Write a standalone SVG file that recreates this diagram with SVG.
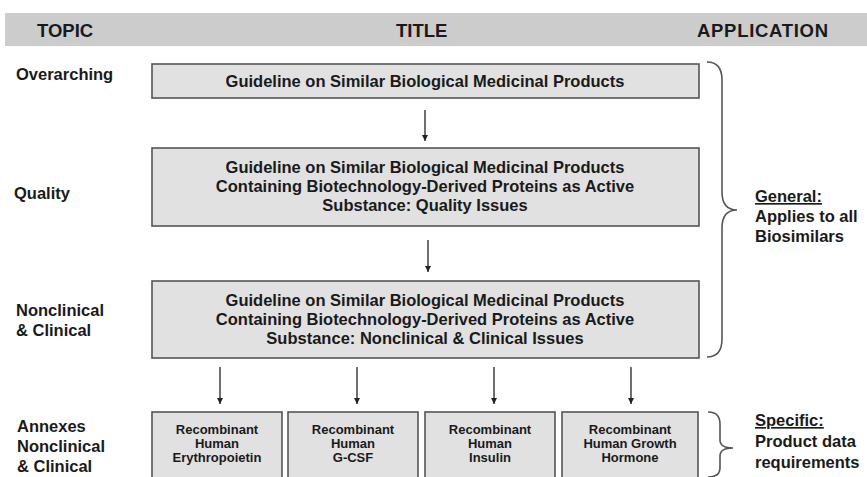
<svg xmlns="http://www.w3.org/2000/svg" width="867" height="477" viewBox="0 0 867 477">
  <style>
    text { font-family: "Liberation Sans", Arial, sans-serif; font-weight: bold; fill: #1a1a1a; }
    .hdr { font-size: 18.5px; }
    .topic { font-size: 16.5px; }
    .main { font-size: 16.5px; text-anchor: middle; }
    .annex { font-size: 13px; text-anchor: middle; }
    .app { font-size: 16.5px; }
    .box { fill: #e1e1e1; stroke: #555; stroke-width: 1.6; }
    .conn { stroke: #222; stroke-width: 1.3; fill: none; }
    .brace { stroke: #555; stroke-width: 1.6; fill: none; }
  </style>
  <defs>
    <marker id="head" viewBox="0 0 10 10" refX="10" refY="5" markerWidth="6" markerHeight="6" orient="auto" markerUnits="userSpaceOnUse">
      <path d="M0,0 L10,5 L0,10 Z" fill="#222"/>
    </marker>
  </defs>

  <rect width="867" height="477" fill="#ffffff"/>

  <!-- header band -->
  <g id="header">
    <rect x="5" y="13" width="862" height="33" fill="#cccccc"/>
    <text class="hdr" x="37" y="37">TOPIC</text>
    <text class="hdr" x="396" y="37">TITLE</text>
    <text class="hdr" x="697" y="37" textLength="131">APPLICATION</text>
  </g>

  <!-- topic column -->
  <g id="topics">
    <text class="topic" x="16" y="80">Overarching</text>
    <text class="topic" x="14" y="199">Quality</text>
    <text class="topic" x="16" y="316">Nonclinical</text>
    <text class="topic" x="16" y="336">&amp; Clinical</text>
    <text class="topic" x="17" y="432">Annexes</text>
    <text class="topic" x="17" y="452">Nonclinical</text>
    <text class="topic" x="17" y="472">&amp; Clinical</text>
  </g>

  <!-- general guidelines -->
  <g id="overarching">
    <rect class="box" x="152" y="64" width="547" height="34"/>
    <text class="main" x="425" y="87">Guideline on Similar Biological Medicinal Products</text>
  </g>
  <g id="quality">
    <rect class="box" x="152" y="148" width="547" height="78"/>
    <text class="main" x="425" y="173">Guideline on Similar Biological Medicinal Products</text>
    <text class="main" x="425" y="192">Containing Biotechnology-Derived Proteins as Active</text>
    <text class="main" x="425" y="211">Substance: Quality Issues</text>
  </g>
  <g id="nonclinical">
    <rect class="box" x="152" y="281" width="547" height="77"/>
    <text class="main" x="425" y="306">Guideline on Similar Biological Medicinal Products</text>
    <text class="main" x="425" y="325">Containing Biotechnology-Derived Proteins as Active</text>
    <text class="main" x="425" y="344">Substance: Nonclinical &amp; Clinical Issues</text>
  </g>

  <!-- product-specific annexes -->
  <g id="epo">
    <rect class="box" x="152" y="412" width="130" height="68"/>
    <text class="annex" x="217" y="434">Recombinant</text>
    <text class="annex" x="217" y="448">Human</text>
    <text class="annex" x="217" y="462">Erythropoietin</text>
  </g>
  <g id="gcsf">
    <rect class="box" x="288" y="412" width="130" height="68"/>
    <text class="annex" x="353" y="434">Recombinant</text>
    <text class="annex" x="353" y="448">Human</text>
    <text class="annex" x="353" y="462">G-CSF</text>
  </g>
  <g id="insulin">
    <rect class="box" x="425" y="412" width="130" height="68"/>
    <text class="annex" x="490" y="434">Recombinant</text>
    <text class="annex" x="490" y="448">Human</text>
    <text class="annex" x="490" y="462">Insulin</text>
  </g>
  <g id="growth-hormone">
    <rect class="box" x="562" y="412" width="136" height="68"/>
    <text class="annex" x="630" y="434">Recombinant</text>
    <text class="annex" x="630" y="448">Human Growth</text>
    <text class="annex" x="630" y="462">Hormone</text>
  </g>

  <!-- application column -->
  <g id="general">
    <path class="brace" d="M707,62 Q722,62 722,80 L722,192 Q722,210 737,210 Q722,210 722,228 L722,339 Q722,357 707,357"/>
    <text class="app" x="755" y="202" text-decoration="underline">General:</text>
    <text class="app" x="755" y="222">Applies to all</text>
    <text class="app" x="755" y="242">Biosimilars</text>
  </g>
  <g id="specific">
    <path class="brace" d="M708,412 Q720,412 720,424 L720,440 Q720,448 733,448 Q720,448 720,456 L720,468 Q720,477 708,477"/>
    <text class="app" x="755" y="426" text-decoration="underline">Specific:</text>
    <text class="app" x="755" y="447">Product data</text>
    <text class="app" x="755" y="468">requirements</text>
  </g>

  <!-- connectors -->
  <g id="connectors">
    <line class="conn" x1="425" y1="110" x2="425" y2="141" marker-end="url(#head)"/>
    <line class="conn" x1="428" y1="240" x2="428" y2="272" marker-end="url(#head)"/>
    <line class="conn" x1="220" y1="367" x2="220" y2="404" marker-end="url(#head)"/>
    <line class="conn" x1="357" y1="367" x2="357" y2="404" marker-end="url(#head)"/>
    <line class="conn" x1="494" y1="367" x2="494" y2="404" marker-end="url(#head)"/>
    <line class="conn" x1="631" y1="367" x2="631" y2="404" marker-end="url(#head)"/>
  </g>
</svg>
